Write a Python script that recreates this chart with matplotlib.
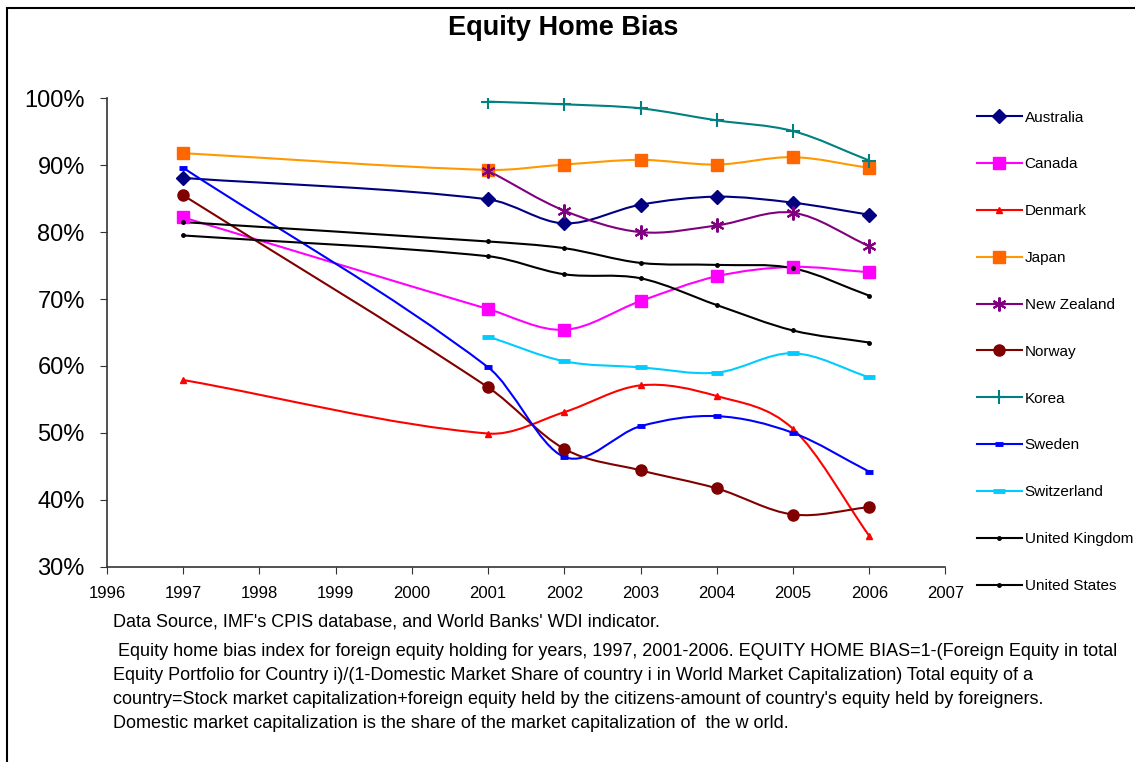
import matplotlib
matplotlib.use("Agg")
import matplotlib.pyplot as plt
from matplotlib.lines import Line2D
from matplotlib.patches import PathPatch, Rectangle
from matplotlib.path import Path
import numpy as np

plt.rcParams["font.family"] = ["Liberation Sans", "DejaVu Sans"]

# ---------------------------------------------------------------------------
# 데이터 (그림에서 읽은 값, %)
# ---------------------------------------------------------------------------
years_full = [1997, 2001, 2002, 2003, 2004, 2005, 2006]
years_recent = [2001, 2002, 2003, 2004, 2005, 2006]

australia = [88.1, 84.9, 81.3, 84.1, 85.3, 84.4, 82.6]
canada = [82.2, 68.5, 65.4, 69.7, 73.4, 74.8, 74.0]
denmark = [57.9, 49.9, 53.1, 57.1, 55.5, 50.6, 34.6]
japan = [91.8, 89.3, 90.1, 90.8, 90.1, 91.2, 89.6]
new_zealand = [89.2, 83.2, 80.0, 81.0, 82.9, 77.9]
norway = [85.5, 56.8, 47.6, 44.4, 41.7, 37.8, 38.9]
korea = [99.5, 99.1, 98.5, 96.7, 95.1, 90.7]
sweden = [89.6, 59.8, 46.4, 51.0, 52.5, 50.0, 44.2]
switzerland = [64.4, 60.7, 59.8, 59.0, 61.9, 58.3]
united_kingdom = [79.5, 76.4, 73.7, 73.1, 69.1, 65.3, 63.5]
united_states = [81.5, 78.6, 77.6, 75.4, 75.1, 74.6, 70.5]

footnote_lines = [
    "Data Source, IMF's CPIS database, and World Banks' WDI indicator.",
    " Equity home bias index for foreign equity holding for years, 1997, 2001-2006. EQUITY HOME BIAS=1-(Foreign Equity in total",
    "Equity Portfolio for Country i)/(1-Domestic Market Share of country i in World Market Capitalization) Total equity of a",
    "country=Stock market capitalization+foreign equity held by the citizens-amount of country's equity held by foreigners.",
    "Domestic market capitalization is the share of the market capitalization of  the w orld.",
]

# (이름, x, y, 선색, 마커, 마커크기, 마커색, 마커테두리굵기)
series = [
    ("Australia", years_full, australia, "#000080", "D", 7, "#000080", 1),
    ("Canada", years_full, canada, "#FF00FF", "s", 8, "#FF00FF", 1),
    ("Denmark", years_full, denmark, "#FF0000", "^", 4, "#FF0000", 1),
    ("Japan", years_full, japan, "#FF9900", "s", 8, "#FF6600", 1),
    ("New Zealand", years_recent, new_zealand, "#800080", (6, 2, 0), 10, "#800080", 1.5),
    ("Norway", years_full, norway, "#800000", "o", 8, "#800000", 1),
    ("Korea", years_recent, korea, "#008080", "+", 10, "#008080", 1.5),
    ("Sweden", years_full, sweden, "#0000FF", "_", 6, "#0000FF", 3.5),
    ("Switzerland", years_recent, switzerland, "#00CCFF", "_", 8, "#00CCFF", 3.5),
    ("United Kingdom", years_full, united_kingdom, "#000000", "o", 2.5, "#000000", 1),
    ("United States", years_full, united_states, "#000000", "o", 2.5, "#000000", 1),
]


def smooth_path(xs, ys):
    """엑셀 '부드러운 선' 흉내: 데이터 점을 지나는 3차 베지어 경로."""
    x = np.asarray(xs, dtype=float)
    y = np.asarray(ys, dtype=float)
    n = len(x)
    m = np.empty(n)
    m[0] = (y[1] - y[0]) / (x[1] - x[0])
    m[-1] = (y[-1] - y[-2]) / (x[-1] - x[-2])
    for i in range(1, n - 1):
        m[i] = (y[i + 1] - y[i - 1]) / (x[i + 1] - x[i - 1])
    verts = [(x[0], y[0])]
    codes = [Path.MOVETO]
    for i in range(n - 1):
        h = x[i + 1] - x[i]
        verts += [(x[i] + h / 3, y[i] + m[i] * h / 3),
                  (x[i + 1] - h / 3, y[i + 1] - m[i + 1] * h / 3),
                  (x[i + 1], y[i + 1])]
        codes += [Path.CURVE4] * 3
    return Path(verts, codes)


fig = plt.figure(figsize=(11.35, 7.62), dpi=100)
ax = fig.add_axes([0.0943, 0.2563, 0.7387, 0.6147])

handles = []
for name, xs, ys, color, marker, ms, mcolor, mew in series:
    ax.add_patch(PathPatch(smooth_path(xs, ys), facecolor="none", edgecolor=color, lw=1.5, zorder=2))
    ax.plot(xs, ys, linestyle="none", marker=marker, markersize=ms, color=mcolor,
            markeredgewidth=mew, zorder=3)
    handles.append(Line2D([], [], color=color, lw=1.5, marker=marker, markersize=ms,
                          markerfacecolor=mcolor, markeredgecolor=mcolor, markeredgewidth=mew))

ax.set_xlim(1996, 2007)
ax.set_ylim(30, 100)
ax.set_xticks(range(1996, 2008))
ax.set_yticks(range(30, 101, 10))
ax.set_yticklabels([f"{v}%" for v in range(30, 101, 10)])
ax.tick_params(axis="y", labelsize=17, length=5, pad=11, color="#333333")
ax.tick_params(axis="x", labelsize=12, length=5, pad=9, color="#333333")
for side in ("top", "right"):
    ax.spines[side].set_visible(False)
for side in ("left", "bottom"):
    ax.spines[side].set_color("#333333")
    ax.spines[side].set_linewidth(1.2)

fig.text(0.496, 0.963, "Equity Home Bias", ha="center", va="center", fontsize=19.5, fontweight="bold")

fig.legend(handles, [s[0] for s in series], loc="upper left", bbox_to_anchor=(0.855, 0.863),
           frameon=False, fontsize=11, handlelength=2.95, labelspacing=2.15,
           handletextpad=0.2, borderaxespad=0)

footnote_y = [622, 651, 675, 699, 723]
for line, ypx in zip(footnote_lines, footnote_y):
    fig.text(113 / 1135, 1 - ypx / 762, line, ha="left", va="center", fontsize=13)

# 바깥 테두리 (오른쪽/아래는 이미지 밖으로 잘림)
fig.patches.append(Rectangle((7 / 1135, -0.05), 1.0, 1.05 - 8 / 762, transform=fig.transFigure,
                             fill=False, edgecolor="black", lw=1.5))

fig.savefig("out.png", dpi=100)
